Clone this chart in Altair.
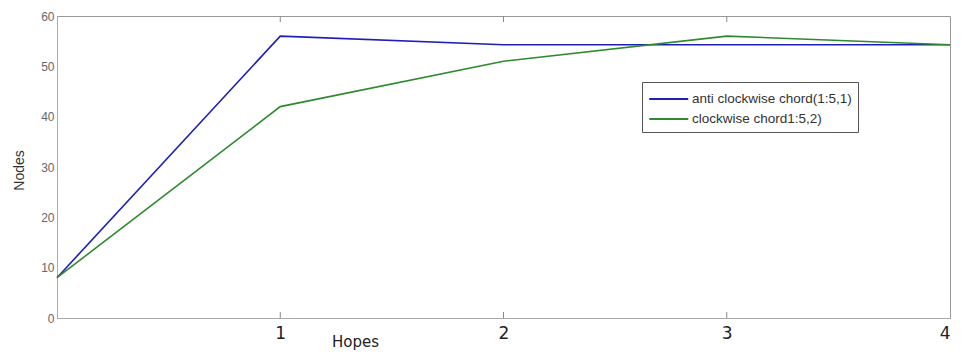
import altair as alt
import pandas as pd

hops = [0, 1, 2, 3, 4]
anti_clockwise = [8, 56, 54.3, 54.3, 54.3]
clockwise = [8, 42, 51, 56, 54.3]
series_names = ["anti clockwise chord(1:5,1)", "clockwise chord1:5,2)"]
x_ticks = [1, 2, 3, 4]
y_ticks = [0, 10, 20, 30, 40, 50, 60]

rows = []
for h, a, c in zip(hops, anti_clockwise, clockwise):
    rows.append({"Hopes": h, "Nodes": a, "series": series_names[0]})
    rows.append({"Hopes": h, "Nodes": c, "series": series_names[1]})
df = pd.DataFrame(rows)

xscale = alt.Scale(domain=[0, 4], nice=False, zero=False)
yscale = alt.Scale(domain=[0, 60], nice=False)

lines = alt.Chart(df).mark_line(strokeWidth=1.6).encode(
    x=alt.X("Hopes:Q", scale=xscale,
            axis=alt.Axis(values=x_ticks, format="d", title="Hopes",
                          titleX=298, titleY=16, titleFontSize=15,
                          titleFontWeight="normal", titleFont="DejaVu Sans",
                          titleColor="#222", labelFontSize=17, labelColor="#222",
                          labelFont="DejaVu Sans", labelPadding=7,
                          domainColor="#aaa", tickSize=0, grid=False)),
    y=alt.Y("Nodes:Q", scale=yscale,
            axis=alt.Axis(values=y_ticks, title="Nodes", titleX=-31, titleY=154,
                          titleFontSize=14, titleFontWeight="normal",
                          titleFont="Liberation Sans", titleColor="#333",
                          labelFontSize=12, labelColor="#666", labelFont="Liberation Sans",
                          labelPadding=3, domainColor="#aaa", tickSize=0, grid=False)),
    color=alt.Color("series:N",
                    scale=alt.Scale(domain=series_names, range=["#1f1fb8", "#2f8a2f"]),
                    legend=alt.Legend(title=None, orient="none", legendX=585, legendY=66,
                                      symbolType="M-1,0L3,0", symbolSize=380,
                                      symbolStrokeWidth=2, labelFontSize=13.5,
                                      labelFont="Liberation Sans", labelColor="#333",
                                      strokeColor="#555", padding=6, rowPadding=2,
                                      labelOffset=22, offset=0, fillColor="white")),
)

tick_df = pd.DataFrame({"t": x_ticks[:3]})
ticks_bottom = alt.Chart(tick_df).mark_rule(color="#888").encode(
    x=alt.X("t:Q", scale=xscale), y=alt.value(302), y2=alt.value(296))
ticks_top = alt.Chart(tick_df).mark_rule(color="#888").encode(
    x=alt.X("t:Q", scale=xscale), y=alt.value(0), y2=alt.value(6))

chart = alt.layer(ticks_bottom, ticks_top, lines).properties(
    width=893, height=302,
    autosize=alt.AutoSizeParams(type="none"),
    padding={"left": 49, "top": 8, "right": 3, "bottom": 32},
).configure_view(stroke="#999", strokeWidth=1)

chart.save("out.html", embed_options={"renderer": "svg", "actions": False})
